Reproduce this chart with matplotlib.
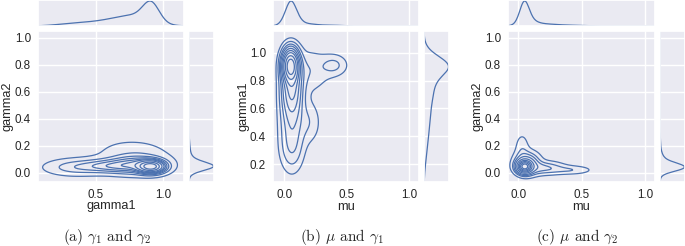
import numpy as np
import matplotlib
matplotlib.use('Agg')
import matplotlib.pyplot as plt
import seaborn as sns

sns.set_theme(style='darkgrid')
plt.rcParams['font.family'] = ['Liberation Sans', 'DejaVu Sans']
plt.rcParams['mathtext.fontset'] = 'cm'

# 每个子图的密度用几个高斯分量描述: 中心 / 宽度 / 权重
# (a) gamma1 vs gamma2
a_cx = [0.91, 0.80, 0.60, 0.35, 0.80, 0.70]
a_cy = [0.045, 0.060, 0.050, 0.040, 0.130, 0.150]
a_sx = [0.06, 0.12, 0.13, 0.13, 0.15, 0.20]
a_sy = [0.028, 0.040, 0.030, 0.035, 0.060, 0.100]
a_w = [0.35, 0.27, 0.16, 0.10, 0.07, 0.05]

# (b) mu vs gamma1
b_cx = [0.05, 0.06, 0.06, 0.06, 0.20, 0.40, 0.20]
b_cy = [0.91, 0.75, 0.52, 0.30, 0.87, 0.91, 0.50]
b_sx = [0.04, 0.05, 0.06, 0.06, 0.11, 0.07, 0.06]
b_sy = [0.07, 0.12, 0.18, 0.10, 0.10, 0.05, 0.10]
b_w = [0.36, 0.25, 0.20, 0.04, 0.08, 0.03, 0.04]

# (c) mu vs gamma2
c_cx = [0.05, 0.07, 0.20, 0.42, 0.03]
c_cy = [0.045, 0.070, 0.035, 0.020, 0.180]
c_sx = [0.035, 0.06, 0.10, 0.10, 0.035]
c_sy = [0.028, 0.050, 0.030, 0.020, 0.070]
c_w = [0.45, 0.28, 0.15, 0.05, 0.05]

labels_x = ['gamma1', 'mu', 'mu']
labels_y = ['gamma2', 'gamma1', 'gamma2']
captions = [r'(a) $\gamma_1$ and $\gamma_2$', r'(b) $\mu$ and $\gamma_1$', r'(c) $\mu$ and $\gamma_2$']
xlims = [(0.074, 1.153), (-0.091, 1.08), (-0.081, 1.079)]
ylims = [(-0.069, 1.05), (0.071, 1.156), (-0.069, 1.05)]
xticks = [[0.5, 1.0], [0.0, 0.5, 1.0], [0.0, 0.5, 1.0]]
yticks = [[0.0, 0.2, 0.4, 0.6, 0.8, 1.0], [0.2, 0.4, 0.6, 0.8, 1.0], [0.0, 0.2, 0.4, 0.6, 0.8, 1.0]]

comps = [(a_cx, a_cy, a_sx, a_sy, a_w),
         (b_cx, b_cy, b_sx, b_sy, b_w),
         (c_cx, c_cy, c_sx, c_sy, c_w)]

# 像素位置 (左, 右), 联合图 y 范围 31-182
panel_x = [(38, 184, 189, 214), (273, 419, 424, 449), (508, 655, 660, 685)]
cap_x = [107, 342, 577]

W, H = 685, 246
col = '#4c72b0'


def gauss(t, c, s):
    return np.exp(-0.5 * ((t - c) / s) ** 2) / (s * np.sqrt(2 * np.pi))


def to_levels(z, n=10, thresh=0.05):
    # 和 seaborn 一样: 按概率质量取等高线
    q = np.linspace(thresh, 1, n)
    v = np.sort(z.ravel())[::-1]
    cum = np.cumsum(v) / v.sum()
    idx = np.searchsorted(cum, 1 - q)
    return np.unique(np.take(v, idx, mode='clip'))[:-1]


fig = plt.figure(figsize=(W / 100, H / 100), dpi=100)

for i in range(3):
    cx, cy, sx, sy, w = [np.array(a) for a in comps[i]]
    x0, x1, r0, r1 = panel_x[i]
    aw, ah = x1 - x0, 182 - 31

    ax = fig.add_axes([x0 / W, 1 - 182 / H, aw / W, ah / H])
    axt = fig.add_axes([x0 / W, 1 - 26 / H, aw / W, 26 / H], sharex=ax)
    axr = fig.add_axes([r0 / W, 1 - 182 / H, (r1 - r0) / W, ah / H], sharey=ax)

    gx = np.linspace(-0.3, 1.4, 300)
    gy = np.linspace(-0.3, 1.4, 300)
    X, Y = np.meshgrid(gx, gy)
    Z = np.zeros_like(X)
    for k in range(len(w)):
        Z += w[k] * gauss(X, cx[k], sx[k]) * gauss(Y, cy[k], sy[k])
    ax.contour(X, Y, Z, levels=to_levels(Z), colors=col, linewidths=0.9)

    # 边缘分布
    px = sum(w[k] * gauss(gx, cx[k], sx[k]) for k in range(len(w)))
    py = sum(w[k] * gauss(gy, cy[k], sy[k]) for k in range(len(w)))
    axt.plot(gx, px, color=col, lw=0.9)
    axr.plot(py, gy, color=col, lw=0.9)
    axt.set_ylim(0, px.max() * 1.04)
    axr.set_xlim(0, py.max() * 1.02)

    ax.set_xlim(*xlims[i])
    ax.set_ylim(*ylims[i])
    ax.set_xticks(xticks[i])
    ax.set_yticks(yticks[i])
    ax.tick_params(labelsize=8.4, length=0, pad=5)
    ax.set_xlabel(labels_x[i], fontsize=9.2)
    ax.set_ylabel(labels_y[i], fontsize=9.2)
    ax.xaxis.set_label_coords(0.5, -18.5 / ah)
    ax.yaxis.set_label_coords(-24 / aw, 0.5)

    axt.tick_params(labelbottom=False, labelleft=False, length=0)
    axt.yaxis.grid(False)
    axr.tick_params(labelbottom=False, labelleft=False, length=0)
    axr.xaxis.grid(False)

    fig.text(cap_x[i] / W, 1 - 237 / H, captions[i], ha='center', va='center',
             fontsize=11, family='cmr10')

plt.savefig('out.png', dpi=100)
